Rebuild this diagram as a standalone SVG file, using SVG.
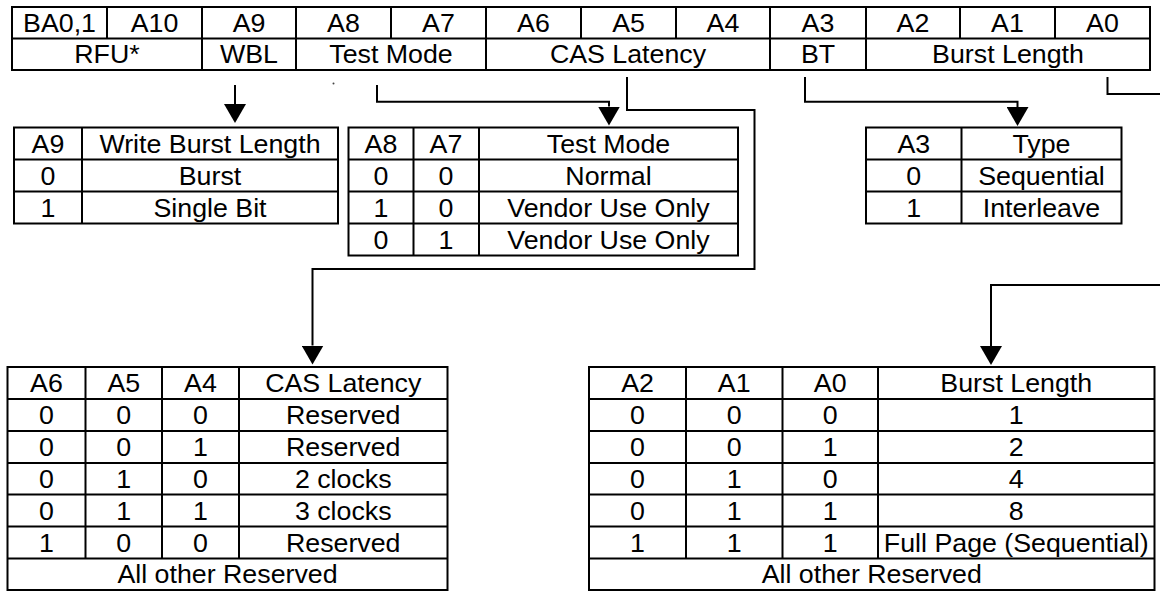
<svg xmlns="http://www.w3.org/2000/svg" width="1160" height="592" viewBox="0 0 1160 592">
<style>
  .grid { fill: none; stroke: #000; stroke-width: 2; }
  .conn { fill: none; stroke: #000; stroke-width: 2; }
  text { font-family: "Liberation Sans", Arial, sans-serif; font-size: 26px; fill: #000; text-anchor: middle; transform-box: fill-box; transform-origin: center; transform: scaleX(1.03); }
</style>
<defs>
  <marker id="arrow" markerUnits="userSpaceOnUse" markerWidth="19" markerHeight="22" viewBox="0 0 19 22" refX="0" refY="11" orient="auto">
    <path d="M0,0 L19,11 L0,22 z" fill="#000"/>
  </marker>
</defs>
<rect width="1160" height="592" fill="#fff"/>

<g id="register">
  <rect class="grid" x="12" y="7" width="1138" height="63"/>
  <path class="grid" d="M12,38.5H1150 M202,7V70 M296,7V70 M486,7V70 M770,7V70 M866,7V70 M107,7V38.5 M391,7V38.5 M581,7V38.5 M676,7V38.5 M960,7V38.5 M1055,7V38.5"/>
  <text x="59.5" y="32">BA0,1</text>
  <text x="154.5" y="32">A10</text>
  <text x="249" y="32">A9</text>
  <text x="343.5" y="32">A8</text>
  <text x="438.5" y="32">A7</text>
  <text x="533.5" y="32">A6</text>
  <text x="628.5" y="32">A5</text>
  <text x="723" y="32">A4</text>
  <text x="818" y="32">A3</text>
  <text x="913" y="32">A2</text>
  <text x="1007.5" y="32">A1</text>
  <text x="1102.5" y="32">A0</text>
  <text x="107" y="63.5">RFU*</text>
  <text x="249" y="63.5">WBL</text>
  <text x="391" y="63.5">Test Mode</text>
  <text x="628" y="63.5">CAS Latency</text>
  <text x="818" y="63.5">BT</text>
  <text x="1008" y="63.5">Burst Length</text>
  <circle cx="333.5" cy="83.5" r="1" fill="#444"/>
</g>

<g id="connectors">
  <path class="conn" d="M235,85V104" marker-end="url(#arrow)"/>
  <path class="conn" d="M377,85V101.7H609V106.5" marker-end="url(#arrow)"/>
  <path class="conn" d="M627,77V110H754.5V269H312.5V345.5" marker-end="url(#arrow)"/>
  <path class="conn" d="M805,77V101.7H1017.5V107" marker-end="url(#arrow)"/>
  <path class="conn" d="M1107.5,77V94H1185V285H991V346" marker-end="url(#arrow)"/>
</g>

<g id="wbl-table">
  <rect class="grid" x="14" y="127.5" width="324" height="96"/>
  <path class="grid" d="M14,159.5H338 M14,191.5H338 M82,127.5V223.5"/>
  <text x="48" y="153">A9</text>
  <text x="210" y="153">Write Burst Length</text>
  <text x="48" y="185">0</text>
  <text x="210" y="185">Burst</text>
  <text x="48" y="217">1</text>
  <text x="210" y="217">Single Bit</text>
</g>

<g id="test-mode-table">
  <rect class="grid" x="348.5" y="127.5" width="389.5" height="128"/>
  <path class="grid" d="M348.5,159.5H738 M348.5,191.5H738 M348.5,223.5H738 M413.5,127.5V255.5 M479,127.5V255.5"/>
  <text x="381" y="153">A8</text>
  <text x="446" y="153">A7</text>
  <text x="608.5" y="153">Test Mode</text>
  <text x="381" y="185">0</text>
  <text x="446" y="185">0</text>
  <text x="608.5" y="185">Normal</text>
  <text x="381" y="217">1</text>
  <text x="446" y="217">0</text>
  <text x="608.5" y="217">Vendor Use Only</text>
  <text x="381" y="249">0</text>
  <text x="446" y="249">1</text>
  <text x="608.5" y="249">Vendor Use Only</text>
</g>

<g id="bt-table">
  <rect class="grid" x="866" y="127.5" width="255.5" height="96"/>
  <path class="grid" d="M866,159.5H1121.5 M866,191.5H1121.5 M961.5,127.5V223.5"/>
  <text x="913.75" y="153">A3</text>
  <text x="1041.5" y="153">Type</text>
  <text x="913.75" y="185">0</text>
  <text x="1041.5" y="185">Sequential</text>
  <text x="913.75" y="217">1</text>
  <text x="1041.5" y="217">Interleave</text>
</g>

<g id="cas-table">
  <rect class="grid" x="7.5" y="367" width="440" height="223"/>
  <path class="grid" d="M7.5,399H447.5 M7.5,431H447.5 M7.5,463H447.5 M7.5,494.5H447.5 M7.5,526.5H447.5 M7.5,558.5H447.5 M85.5,367V558.5 M162,367V558.5 M239,367V558.5"/>
  <text x="46.5" y="392.5">A6</text>
  <text x="123.75" y="392.5">A5</text>
  <text x="200.5" y="392.5">A4</text>
  <text x="343.25" y="392.5">CAS Latency</text>
  <text x="46.5" y="424.5">0</text><text x="123.75" y="424.5">0</text><text x="200.5" y="424.5">0</text><text x="343.25" y="424.5">Reserved</text>
  <text x="46.5" y="456.5">0</text><text x="123.75" y="456.5">0</text><text x="200.5" y="456.5">1</text><text x="343.25" y="456.5">Reserved</text>
  <text x="46.5" y="488.5">0</text><text x="123.75" y="488.5">1</text><text x="200.5" y="488.5">0</text><text x="343.25" y="488.5">2 clocks</text>
  <text x="46.5" y="520">0</text><text x="123.75" y="520">1</text><text x="200.5" y="520">1</text><text x="343.25" y="520">3 clocks</text>
  <text x="46.5" y="552">1</text><text x="123.75" y="552">0</text><text x="200.5" y="552">0</text><text x="343.25" y="552">Reserved</text>
  <text x="227.5" y="583.5">All other Reserved</text>
</g>

<g id="bl-table">
  <rect class="grid" x="589" y="367" width="565.5" height="223"/>
  <path class="grid" d="M589,399H1154.5 M589,431H1154.5 M589,463H1154.5 M589,494.5H1154.5 M589,526.5H1154.5 M589,558.5H1154.5 M686,367V558.5 M782.5,367V558.5 M878,367V558.5"/>
  <text x="637.5" y="392.5">A2</text>
  <text x="734.25" y="392.5">A1</text>
  <text x="830.25" y="392.5">A0</text>
  <text x="1016.25" y="392.5">Burst Length</text>
  <text x="637.5" y="424.5">0</text><text x="734.25" y="424.5">0</text><text x="830.25" y="424.5">0</text><text x="1016.25" y="424.5">1</text>
  <text x="637.5" y="456.5">0</text><text x="734.25" y="456.5">0</text><text x="830.25" y="456.5">1</text><text x="1016.25" y="456.5">2</text>
  <text x="637.5" y="488.5">0</text><text x="734.25" y="488.5">1</text><text x="830.25" y="488.5">0</text><text x="1016.25" y="488.5">4</text>
  <text x="637.5" y="520">0</text><text x="734.25" y="520">1</text><text x="830.25" y="520">1</text><text x="1016.25" y="520">8</text>
  <text x="637.5" y="552">1</text><text x="734.25" y="552">1</text><text x="830.25" y="552">1</text><text x="1016.25" y="552">Full Page (Sequential)</text>
  <text x="871.75" y="583.5">All other Reserved</text>
</g>
</svg>
